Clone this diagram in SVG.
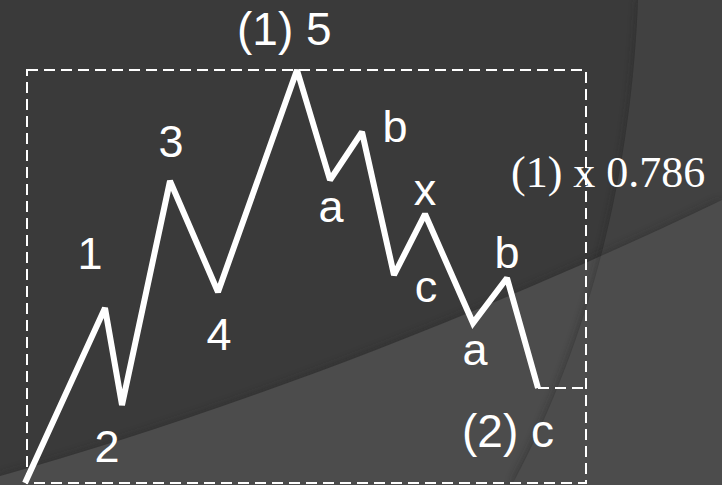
<svg xmlns="http://www.w3.org/2000/svg" width="722" height="485" viewBox="0 0 722 485">
<defs>
<filter id="blur" x="-20%" y="-20%" width="140%" height="140%"><feGaussianBlur stdDeviation="4"/></filter>
<clipPath id="leftOfCurve"><path d="M0,0 L638,0 C632,150 600,320 512,485 L0,485 Z"/></clipPath>
<clipPath id="aboveArc"><path d="M0,0 L722,0 L722,200 C450,330 200,420 0,476 Z"/></clipPath>
<style>
.lbl{font-family:"Liberation Sans",Arial,sans-serif;font-size:45px;fill:#ffffff;text-anchor:middle}
.lbls{font-family:"Liberation Sans",Arial,sans-serif;font-size:46px;fill:#ffffff}
.serif{font-family:"Liberation Serif","Times New Roman",serif;font-size:44px;fill:#ffffff}
.dash{fill:none;stroke:#ffffff;stroke-width:2;stroke-dasharray:11 6}
.wave{fill:none;stroke:#ffffff;stroke-width:6;stroke-linejoin:miter;stroke-miterlimit:2}
</style>
</defs>
<g id="background">
<rect width="722" height="485" fill="#3a3a3a"/>
<path d="M638,0 C632,150 600,320 512,485 L722,485 L722,0 Z" fill="#414141"/>
<path d="M0,476 C200,420 450,330 722,200 L722,485 L0,485 Z" fill="#4c4c4c"/>
<g clip-path="url(#leftOfCurve)"><path d="M642,0 C636,150 604,320 516,485" fill="none" stroke="#262626" stroke-width="8" opacity="0.6" filter="url(#blur)"/></g>
<g clip-path="url(#aboveArc)"><path d="M0,480 C200,424 450,334 722,204" fill="none" stroke="#262626" stroke-width="8" opacity="0.5" filter="url(#blur)"/></g>
</g>
<g id="connectors">
<rect class="dash" x="27" y="70" width="559" height="413"/>
<line class="dash" x1="538" y1="388" x2="586" y2="388"/>
<polyline class="wave" points="25,483 105,308 122,405 170,181 218,292 297,70 330,180 362,132 394,275 425,214 473,323 507,278 538,388"/>
</g>
<g id="labels">
<text class="lbls" x="237" y="45">(1) 5</text>
<text class="lbl" x="90" y="269">1</text>
<text class="lbl" x="107" y="462">2</text>
<text class="lbl" x="171" y="157">3</text>
<text class="lbl" x="219" y="350">4</text>
<text class="lbl" x="331" y="222">a</text>
<text class="lbl" x="395" y="142">b</text>
<text class="lbl" x="426" y="302">c</text>
<text class="lbl" x="425" y="205">x</text>
<text class="lbl" x="475" y="365">a</text>
<text class="lbl" x="507" y="268">b</text>
<text class="lbls" x="462" y="447">(2) c</text>
<text class="serif" x="511" y="187">(1) x 0.786</text>
</g>
</svg>
